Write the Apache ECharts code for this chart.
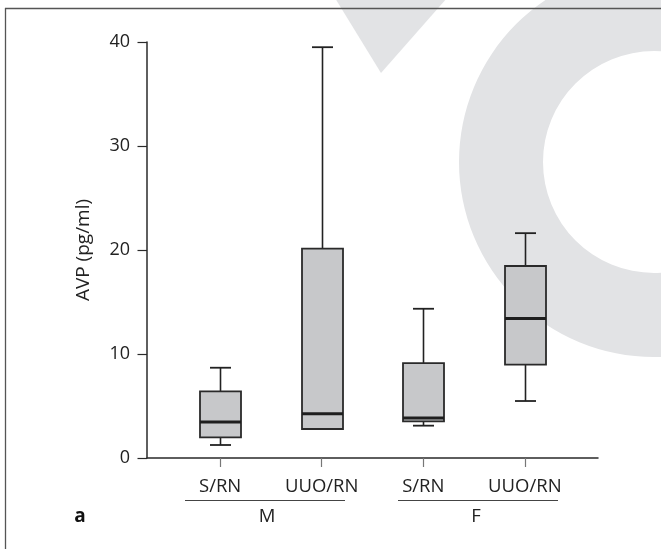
<!DOCTYPE html>
<html>
<head>
<meta charset="utf-8">
<script src="https://cdn.jsdelivr.net/npm/echarts@6/dist/echarts.min.js"></script>
<style>
html,body{margin:0;padding:0;background:#fff;}
#chart{width:661px;height:549px;}
</style>
</head>
<body>
<div id="chart"></div>
<script>
// ---- data ----
var categories = ['S/RN', 'UUO/RN', 'S/RN', 'UUO/RN'];
var groupLabels = ['M', 'F'];
var minVals    = [1.25, 2.79, 3.11, 5.48];
var q1Vals     = [1.99, 2.79, 3.52, 8.97];
var medianVals = [3.46, 4.26, 3.84, 13.42];
var q3Vals     = [6.41, 20.13, 9.13, 18.46];
var maxVals    = [8.68, 39.5, 14.35, 21.62];
var yTicks = [0, 10, 20, 30, 40];
var yAxisName = 'AVP (pg/ml)';
var panelLabel = 'a';

var FONT = '"Open Sans", "Noto Sans", sans-serif';
var boxData = categories.map(function (c, i) {
  return [i, minVals[i], q1Vals[i], medianVals[i], q3Vals[i], maxVals[i]];
});

var chart = echarts.init(document.getElementById('chart'), null, {renderer: 'canvas'});

function renderItem(params, api) {
  var x = api.value(0);
  var pMin = api.coord([x, api.value(1)]);
  var pQ1 = api.coord([x, api.value(2)]);
  var pMed = api.coord([x, api.value(3)]);
  var pQ3 = api.coord([x, api.value(4)]);
  var pMax = api.coord([x, api.value(5)]);
  var cx = Math.round(pMed[0]) + 0.5;
  var bw = 41, cw = 21;
  var lineStyle = {stroke: '#222', lineWidth: 1.6};
  return {
    type: 'group',
    children: [
      {type: 'line', shape: {x1: cx, y1: pQ3[1], x2: cx, y2: pMax[1]}, style: lineStyle},
      {type: 'line', shape: {x1: cx, y1: pQ1[1], x2: cx, y2: pMin[1]}, style: lineStyle},
      {type: 'line', shape: {x1: cx - cw / 2, y1: pMax[1], x2: cx + cw / 2, y2: pMax[1]}, style: {stroke: '#222', lineWidth: 1.8}},
      {type: 'line', shape: {x1: cx - cw / 2, y1: pMin[1], x2: cx + cw / 2, y2: pMin[1]}, style: {stroke: '#222', lineWidth: 1.8}},
      {type: 'rect', shape: {x: cx - bw / 2, y: pQ3[1], width: bw, height: pQ1[1] - pQ3[1]},
        style: {fill: '#c7c8ca', stroke: '#2a2a2a', lineWidth: 1.8}},
      {type: 'line', shape: {x1: cx - bw / 2, y1: pMed[1], x2: cx + bw / 2, y2: pMed[1]}, style: {stroke: '#1e1e1e', lineWidth: 3}}
    ]
  };
}

var wm = '#e2e3e5';
var option = {
  backgroundColor: '#fff',
  animation: false,
  grid: {left: 147, right: 63, top: 42, bottom: 91, containLabel: false},
  xAxis: {
    type: 'value',
    min: -0.72,
    max: 3.72,
    axisLine: {show: true, onZero: false, lineStyle: {color: '#2a2a2a', width: 1.5}},
    axisTick: {show: true, customValues: [0, 1, 2, 3], length: 9, lineStyle: {color: '#777', width: 1.2}},
    axisLabel: {
      show: true, customValues: [0, 1, 2, 3], margin: 19,
      formatter: function (v) { return categories[Math.round(v)]; },
      color: '#222', fontSize: 18.5, fontFamily: FONT
    },
    splitLine: {show: false}
  },
  yAxis: {
    type: 'value',
    min: 0, max: 40, interval: 10,
    name: yAxisName,
    nameLocation: 'middle',
    nameRotate: 90,
    nameGap: 54,
    nameTextStyle: {color: '#222', fontSize: 19, fontFamily: FONT},
    axisLine: {show: true, onZero: false, lineStyle: {color: '#2a2a2a', width: 1.5}},
    axisTick: {show: true, length: 9.5, lineStyle: {color: '#2a2a2a', width: 1.2}},
    axisLabel: {margin: 17, color: '#222', fontSize: 18, fontFamily: FONT,
      customValues: yTicks},
    splitLine: {show: false}
  },
  graphic: [
    {type: 'ring', z: -10, silent: true, shape: {cx: 654, cy: 162, r: 195, r0: 111}, style: {fill: wm}},
    {type: 'polygon', z: -10, silent: true, shape: {points: [[335, -2], [447, -2], [381, 73]]}, style: {fill: wm}},
    {type: 'line', z: 10, shape: {x1: 5, y1: 8.5, x2: 661, y2: 8.5}, style: {stroke: '#555', lineWidth: 1.3}},
    {type: 'line', z: 10, shape: {x1: 5.5, y1: 8, x2: 5.5, y2: 549}, style: {stroke: '#555', lineWidth: 1.3}},
    {type: 'line', z: 10, shape: {x1: 185, y1: 500.5, x2: 345, y2: 500.5}, style: {stroke: '#444', lineWidth: 1.2}},
    {type: 'line', z: 10, shape: {x1: 398, y1: 500.5, x2: 558, y2: 500.5}, style: {stroke: '#444', lineWidth: 1.2}},
    {type: 'text', z: 10, x: 267, y: 517, style: {text: groupLabels[0], fill: '#222', font: '18.5px ' + FONT, textAlign: 'center', textVerticalAlign: 'middle'}},
    {type: 'text', z: 10, x: 476, y: 517, style: {text: groupLabels[1], fill: '#222', font: '18.5px ' + FONT, textAlign: 'center', textVerticalAlign: 'middle'}},
    {type: 'text', z: 10, x: 80, y: 517, style: {text: panelLabel, fill: '#111', font: 'bold 19px ' + FONT, textAlign: 'center', textVerticalAlign: 'middle'}}
  ],
  series: [{
    type: 'custom',
    renderItem: renderItem,
    encode: {x: 0, y: [1, 2, 3, 4, 5]},
    data: boxData,
    z: 5
  }]
};
chart.setOption(option);
</script>
</body>
</html>
